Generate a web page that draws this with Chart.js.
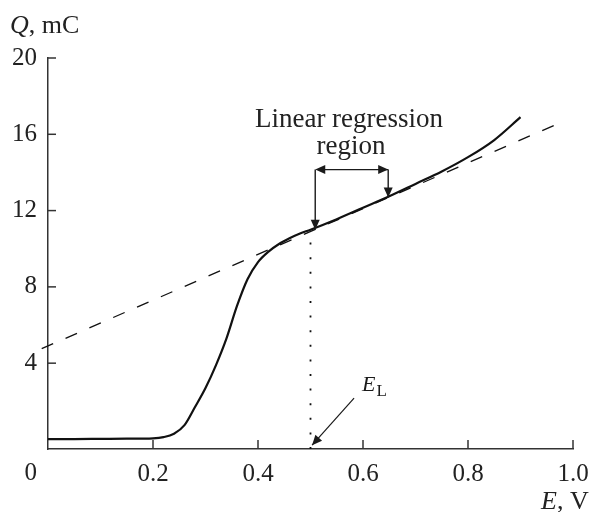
<!DOCTYPE html>
<html>
<head>
<meta charset="utf-8">
<script src="https://cdn.jsdelivr.net/npm/chart.js@4.4.1/dist/chart.umd.min.js"></script>
<style>
  html, body { margin: 0; background: #fff; }
  canvas { display: block; }
</style>
</head>
<body>
<canvas id="chart" width="591" height="512"></canvas>
<script>
// charge curve Q(E)
const potential = [0, 0.05, 0.1, 0.15, 0.2, 0.22, 0.24, 0.26, 0.28, 0.3, 0.32, 0.34, 0.36, 0.38, 0.4,
                   0.42, 0.44, 0.46, 0.48, 0.5, 0.55, 0.6, 0.65, 0.7, 0.75, 0.8, 0.85, 0.9];
const charge    = [0.02, 0.02, 0.03, 0.04, 0.06, 0.12, 0.3, 0.75, 1.7, 2.7, 3.9, 5.3, 7.0, 8.4, 9.3,
                   9.85, 10.25, 10.55, 10.8, 11.0, 11.55, 12.15, 12.75, 13.4, 14.05, 14.8, 15.7, 16.9];

// linear regression line (dashed)
const fitE = [-0.012, 0.975];
const fitQ = [4.76, 16.6];

// E_L marker (dotted)
const limitE = [0.5, 0.5];
const limitQ = [-0.5, 10.95];

const xTicks = [0, 0.2, 0.4, 0.6, 0.8, 1.0];
const yTicks = [4, 8, 12, 16, 20];

// annotation anchors, in data units
const regionE = [0.509, 0.648];
const regionQ = [11.0, 12.68];
const regionTopQ = 14.15;
const elArrowE = [0.583, 0.503];
const elArrowQ = [2.17, -0.3];

const serif = "'Liberation Serif', 'Times New Roman', serif";
const ink = '#1a1a1a';

function arrowHead(ctx, x1, y1, x2, y2) {
  const a = Math.atan2(y2 - y1, x2 - x1);
  const len = 10, half = 4.5;
  ctx.beginPath();
  ctx.moveTo(x2, y2);
  ctx.lineTo(x2 - len * Math.cos(a) + half * Math.sin(a), y2 - len * Math.sin(a) - half * Math.cos(a));
  ctx.lineTo(x2 - len * Math.cos(a) - half * Math.sin(a), y2 - len * Math.sin(a) + half * Math.cos(a));
  ctx.closePath();
  ctx.fill();
}

function arrow(ctx, x1, y1, x2, y2) {
  ctx.beginPath();
  ctx.moveTo(x1, y1);
  ctx.lineTo(x2, y2);
  ctx.stroke();
  arrowHead(ctx, x1, y1, x2, y2);
}

const decor = {
  id: 'decor',
  afterDraw(chart) {
    const ctx = chart.ctx;
    const xs = chart.scales.x, ys = chart.scales.y;
    const area = chart.chartArea;
    ctx.save();
    ctx.strokeStyle = '#333';
    ctx.fillStyle = ink;
    ctx.lineWidth = 1.5;

    // inward tick marks
    xTicks.forEach(v => {
      if (v === 0) return;
      const px = xs.getPixelForValue(v);
      ctx.beginPath();
      ctx.moveTo(px, area.bottom);
      ctx.lineTo(px, area.bottom - 9);
      ctx.stroke();
    });
    yTicks.forEach(v => {
      const py = ys.getPixelForValue(v);
      ctx.beginPath();
      ctx.moveTo(area.left, py);
      ctx.lineTo(area.left + 8, py);
      ctx.stroke();
    });

    // origin label
    ctx.font = '25px ' + serif;
    ctx.fillStyle = '#222';
    ctx.textAlign = 'right';
    ctx.textBaseline = 'alphabetic';
    ctx.fillText('0', area.left - 11, 480);

    // axis titles
    ctx.textAlign = 'left';
    ctx.font = 'italic 26px ' + serif;
    ctx.fillText('Q', 10, 33);
    let w = ctx.measureText('Q').width;
    ctx.font = '26px ' + serif;
    ctx.fillText(', mC', 10 + w, 33);

    ctx.font = 'italic 26px ' + serif;
    ctx.fillText('E', 541, 509);
    w = ctx.measureText('E').width;
    ctx.font = '26px ' + serif;
    ctx.fillText(', V', 541 + w, 509);

    // regression window label and arrows
    ctx.textAlign = 'center';
    ctx.font = '27px ' + serif;
    ctx.fillText('Linear regression', 349, 127);
    ctx.fillText('region', 351, 154);

    ctx.strokeStyle = ink;
    ctx.fillStyle = ink;
    ctx.lineWidth = 1.4;
    const xl = xs.getPixelForValue(regionE[0]);
    const xr = xs.getPixelForValue(regionE[1]);
    const yt = ys.getPixelForValue(regionTopQ);
    arrow(ctx, xl, yt, xl, ys.getPixelForValue(regionQ[0]));
    arrow(ctx, xr, yt, xr, ys.getPixelForValue(regionQ[1]));
    arrow(ctx, xl + 5, yt, xr, yt);
    arrowHead(ctx, xr, yt, xl, yt);

    // E_L label and arrow
    ctx.textAlign = 'left';
    ctx.font = 'italic 22px ' + serif;
    ctx.fillText('E', 362, 391);
    w = ctx.measureText('E').width;
    ctx.font = '17px ' + serif;
    ctx.fillText('L', 362 + w + 1, 396);
    ctx.lineWidth = 1.2;
    arrow(ctx,
      xs.getPixelForValue(elArrowE[0]), ys.getPixelForValue(elArrowQ[0]),
      xs.getPixelForValue(elArrowE[1]), ys.getPixelForValue(elArrowQ[1]));

    ctx.restore();
  }
};

const toPoints = (xv, yv) => xv.map((x, i) => ({ x: x, y: yv[i] }));

new Chart(document.getElementById('chart'), {
  type: 'scatter',
  data: {
    datasets: [
      {
        data: toPoints(potential, charge),
        showLine: true,
        borderColor: '#111',
        borderWidth: 2.2,
        pointRadius: 0,
        cubicInterpolationMode: 'monotone'
      },
      {
        data: toPoints(fitE, fitQ),
        showLine: true,
        borderColor: '#111',
        borderWidth: 1.3,
        borderDash: [12.5, 13.5],
        pointRadius: 0,
        clip: false
      },
      {
        data: toPoints(limitE, limitQ),
        showLine: true,
        borderColor: '#111',
        borderWidth: 1.8,
        borderDash: [2, 12.6],
        pointRadius: 0
      }
    ]
  },
  options: {
    responsive: false,
    animation: false,
    layout: { padding: { top: 58, right: 18, left: 0, bottom: 0 } },
    plugins: { legend: { display: false }, tooltip: { enabled: false } },
    scales: {
      x: {
        type: 'linear',
        min: 0,
        max: 1,
        afterBuildTicks: s => { s.ticks = xTicks.map(v => ({ value: v })); },
        afterFit: s => { s.height = 63; s.paddingLeft = 0; s.paddingRight = 0; },
        grid: { drawOnChartArea: false, drawTicks: false },
        border: { color: '#333', width: 1.5 },
        ticks: {
          padding: 10,
          color: '#222',
          maxRotation: 0,
          font: { family: serif, size: 25 },
          callback: v => v === 0 ? '' : v.toFixed(1)
        }
      },
      y: {
        type: 'linear',
        min: -0.5,
        max: 20,
        afterBuildTicks: s => { s.ticks = yTicks.map(v => ({ value: v })); },
        afterFit: s => { s.width = 48; s.paddingTop = 0; s.paddingBottom = 0; },
        grid: { drawOnChartArea: false, drawTicks: false },
        border: { color: '#333', width: 1.5 },
        ticks: {
          padding: 11,
          color: '#222',
          font: { family: serif, size: 25 },
          callback: v => String(v)
        }
      }
    }
  },
  plugins: [decor]
});
</script>
</body>
</html>
